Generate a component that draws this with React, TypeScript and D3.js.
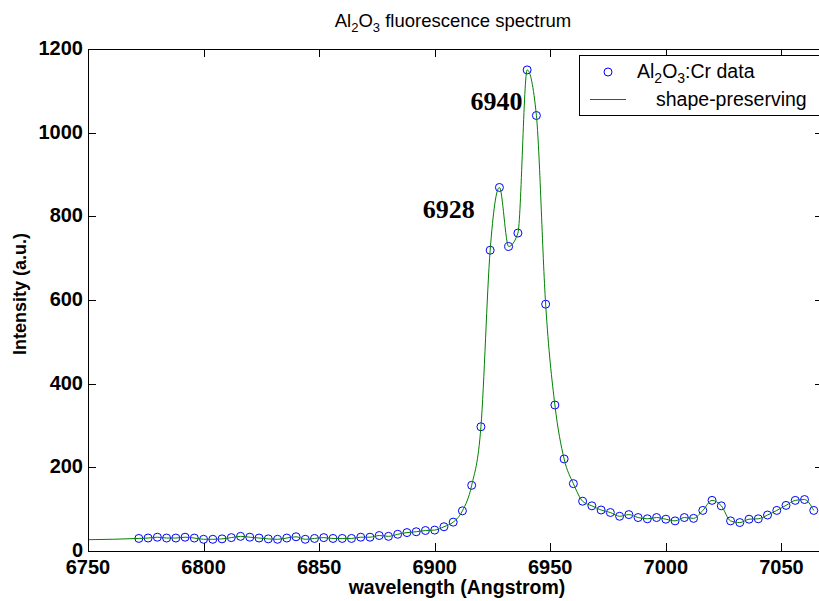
import * as d3 from "d3";

// measured wavelengths: 6772 .. 7064 every 4 Angstrom
const wavelengths = d3.range(6772, 7065, 4);
const intensities = [
  30, 31, 33, 31, 31, 33, 31, 28, 28, 29,
  32, 35, 33, 31, 29, 28, 31, 34, 28, 30,
  32, 30, 30, 30, 33, 33, 37, 35, 40, 44,
  46, 49, 50, 58, 69, 96, 157, 297, 719, 869,
  728, 760, 1150, 1041, 590, 349, 220, 161, 119, 108,
  98, 92, 83, 87, 80, 77, 80, 76, 72, 80,
  78, 97, 121, 108, 72, 68, 76, 77, 86, 97,
  109, 121, 123, 97,
];
// where the fitted curve starts on the left (extrapolated)
const fitLeadWavelength = 6750;
const fitLeadIntensity = 27;

const xTicks = [6750, 6800, 6850, 6900, 6950, 7000, 7050];
const yTicks = [0, 200, 400, 600, 800, 1000, 1200];

const peakLabels = [
  { text: "6940", wavelength: 6915.5, intensity: 1055 },
  { text: "6928", wavelength: 6894.8, intensity: 797 },
];

const W = 819;
const H = 601;
const margin = { left: 88, right: -4, top: 49, bottom: 50 };

const App = () => {
  const x = d3
    .scaleLinear()
    .domain([6750, 7068])
    .range([margin.left, W - margin.right]);
  const y = d3
    .scaleLinear()
    .domain([0, 1200])
    .range([H - margin.bottom, margin.top]);

  const points = wavelengths.map((w, i) => ({ w, v: intensities[i] }));
  const fitPoints = [{ w: fitLeadWavelength, v: fitLeadIntensity }, ...points];

  const line = d3
    .line<{ w: number; v: number }>()
    .x((d) => x(d.w))
    .y((d) => y(d.v))
    .curve(d3.curveMonotoneX);

  const x0 = x.range()[0];
  const x1 = x.range()[1];
  const y0 = y.range()[0];
  const y1 = y.range()[1];
  const tick = 8;
  const sans = "Liberation Sans, Arial, sans-serif";

  return (
    <svg
      width={W}
      height={H}
      style={{ position: "absolute", left: 0, top: 0, background: "#fff" }}
      fontFamily={sans}
    >
      {/* title */}
      <text x={453} y={27} fontSize={18.5} textAnchor="middle">
        Al<tspan dy={5} fontSize={13}>2</tspan>
        <tspan dy={-5}>O</tspan>
        <tspan dy={5} fontSize={13}>3</tspan>
        <tspan dy={-5}> fluorescence spectrum</tspan>
      </text>

      {/* data markers */}
      {points.map((d, i) => (
        <circle
          key={i}
          cx={x(d.w)}
          cy={y(d.v)}
          r={4}
          fill="none"
          stroke="#0000ff"
          strokeWidth={1}
        />
      ))}

      {/* fitted line */}
      <path d={line(fitPoints) || ""} fill="none" stroke="#008000" strokeWidth={1} />

      {/* axes box */}
      <g stroke="#000" strokeWidth={1} fill="none">
        <line x1={x0} x2={x1} y1={y0 + 0.5} y2={y0 + 0.5} />
        <line x1={x0} x2={x1} y1={y1 + 0.5} y2={y1 + 0.5} />
        <line x1={x0 + 0.5} x2={x0 + 0.5} y1={y0} y2={y1} />
        <line x1={x1 - 0.5} x2={x1 - 0.5} y1={y0} y2={y1} />
        {xTicks.map((t) => (
          <g key={t}>
            <line x1={Math.round(x(t)) + 0.5} x2={Math.round(x(t)) + 0.5} y1={y0} y2={y0 - tick} />
            <line x1={Math.round(x(t)) + 0.5} x2={Math.round(x(t)) + 0.5} y1={y1} y2={y1 + tick} />
          </g>
        ))}
        {yTicks.map((t) => (
          <g key={t}>
            <line x1={x0} x2={x0 + tick} y1={Math.round(y(t)) + 0.5} y2={Math.round(y(t)) + 0.5} />
            <line x1={x1} x2={x1 - tick} y1={Math.round(y(t)) + 0.5} y2={Math.round(y(t)) + 0.5} />
          </g>
        ))}
      </g>

      {/* tick labels */}
      <g fontSize={20} fontWeight="bold" fill="#000">
        {xTicks.map((t) => (
          <text key={t} x={x(t)} y={y0 + 23} textAnchor="middle">
            {t}
          </text>
        ))}
        {yTicks.map((t) => (
          <text key={t} x={x0 - 5} y={y(t)} dy="0.3em" textAnchor="end">
            {t}
          </text>
        ))}
      </g>

      {/* axis labels */}
      <text x={457} y={594} fontSize={19.5} fontWeight="bold" textAnchor="middle">
        wavelength (Angstrom)
      </text>
      <text
        transform={`translate(26,${294}) rotate(-90)`}
        fontSize={18}
        fontWeight="bold"
        textAnchor="middle"
      >
        Intensity (a.u.)
      </text>

      {/* peak annotations */}
      {peakLabels.map((p) => (
        <text
          key={p.text}
          x={x(p.wavelength)}
          y={y(p.intensity)}
          fontFamily="Liberation Serif, Times New Roman, serif"
          fontWeight="bold"
          fontSize={26}
        >
          {p.text}
        </text>
      ))}

      {/* legend */}
      <g>
        <rect x={579.5} y={55.5} width={260} height={60} fill="#fff" stroke="#000" />
        <circle cx={608} cy={72} r={4} fill="none" stroke="#0000ff" />
        <text x={637} y={78} fontSize={19.5}>
          Al<tspan dy={5} fontSize={14}>2</tspan>
          <tspan dy={-5}>O</tspan>
          <tspan dy={5} fontSize={14}>3</tspan>
          <tspan dy={-5}>:Cr data</tspan>
        </text>
        <line x1={590} x2={626} y1={99.5} y2={99.5} stroke="#008000" />
        <text x={656} y={106} fontSize={19.5}>
          shape-preserving
        </text>
      </g>
    </svg>
  );
};

export default App;
